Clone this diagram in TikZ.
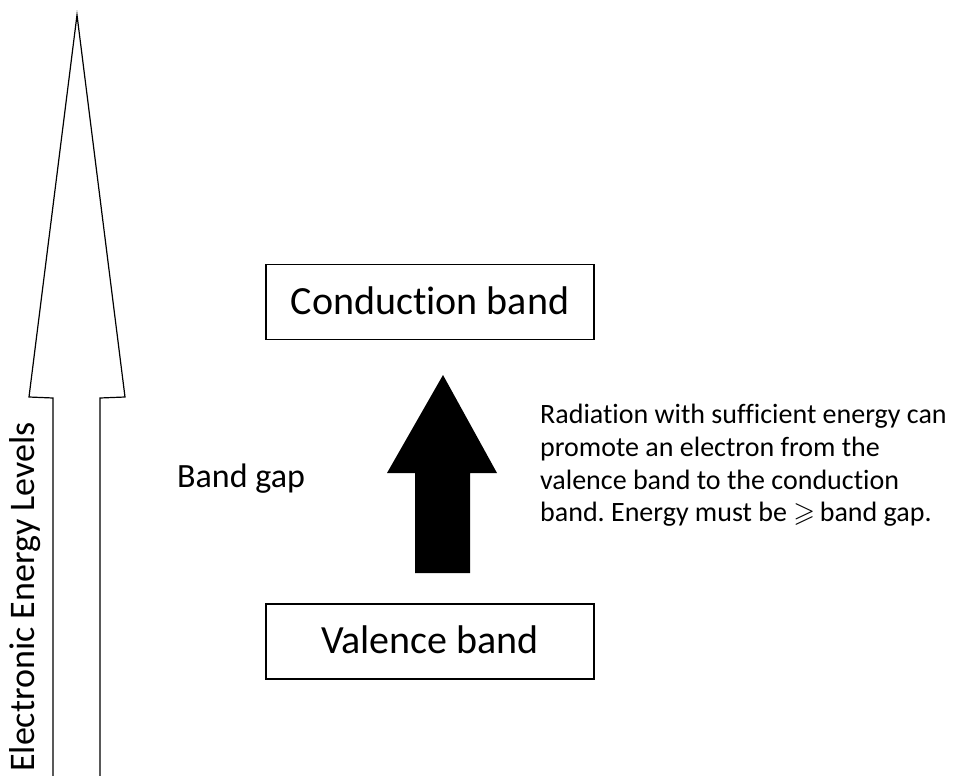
\documentclass[tikz,border=0pt]{standalone}
\usepackage{amssymb}
\usepackage{fontspec}
\setmainfont{Carlito}[Ligatures={NoCommon}]
\usetikzlibrary{positioning}

\begin{document}
\frenchspacing
\begin{tikzpicture}[x=1pt,y=-1pt,
  band/.style={draw,line width=1.2pt,minimum width=328pt,minimum height=75pt,
    text height=24pt,text depth=0pt,inner sep=0pt,
    font=\fontsize{40}{48}\selectfont},
  outline/.style={draw,line width=1.2pt,line join=miter},
  solidarrow/.style={fill=black,draw=none}]
  \useasboundingbox (0,0) rectangle (953,776);
  % energy axis (hollow arrow)
  \draw [outline] (53,780) -- (53,398) -- (29,397) -- (77,15)
    -- (125,397) -- (100,398) -- (100,780);
  \node [rotate=90,anchor=base west,inner sep=0pt,
    font=\fontsize{36}{42}\selectfont] (axis) at (34,772)
    {Electronic Energy Levels};
  % bands
  \node [band] (cond) at (430,302) {Conduction band};
  \node [band] (val) at (430,641.5) {Valence band};
  \node [anchor=base west,inner sep=0pt,font=\fontsize{34}{40}\selectfont]
    (gap) at (177,487) {Band gap};
  % promotion arrow
  \fill [solidarrow] (415,573) -- (415,473) -- (387,473) -- (443,375)
    -- (497,473) -- (470,473) -- (470,573) -- cycle;
  \node [anchor=north west,inner sep=0pt,align=left,
    font=\fontsize{28}{32.7}\selectfont] (note) at (540,404)
    {Radiation with sufficient energy can\\
     promote an electron from the\\
     valence band to the conduction\\
     band. Energy must be $\geqslant$\,band gap.};
\end{tikzpicture}
\end{document}
